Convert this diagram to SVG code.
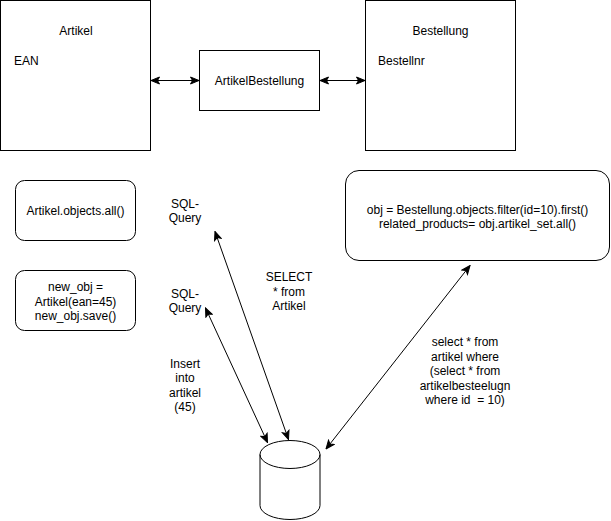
<svg xmlns="http://www.w3.org/2000/svg" width="611" height="521" viewBox="0 0 611 521">
<style>
.box{fill:#fff;stroke:#000;stroke-width:1}
.t{font-family:"Liberation Sans",Arial,sans-serif;font-size:12px;fill:#000}
.m{text-anchor:middle}
.edge{stroke:#000;stroke-width:1;fill:none;marker-start:url(#arr);marker-end:url(#arr)}
</style>
<defs>
<marker id="arr" viewBox="0 0 10 9" refX="9.5" refY="4.5" markerWidth="10" markerHeight="9" markerUnits="userSpaceOnUse" orient="auto-start-reverse">
<path d="M1,1 L9.5,4.5 L1,8 L3,4.5 Z" fill="#000" stroke="#000" stroke-width="1"/>
</marker>
</defs>
<rect width="611" height="521" fill="#fff"/>
<g id="artikel">
<rect class="box" x="0.5" y="0.5" width="150" height="150"/>
<text class="t m" x="76" y="35">Artikel</text>
<text class="t" x="14" y="65">EAN</text>
</g>
<g id="artikelbestellung">
<rect class="box" x="199.5" y="50.5" width="120" height="60"/>
<text class="t m" x="259.5" y="84.5">ArtikelBestellung</text>
</g>
<g id="bestellung">
<rect class="box" x="365.5" y="0.5" width="150" height="150"/>
<text class="t m" x="440.5" y="35">Bestellung</text>
<text class="t" x="378" y="65">Bestellnr</text>
</g>
<g id="all">
<rect class="box" x="15.5" y="180.5" width="120" height="60" rx="9"/>
<text class="t m" x="75.5" y="215">Artikel.objects.all()</text>
</g>
<g id="save">
<rect class="box" x="15.5" y="270.5" width="120" height="60" rx="9"/>
<text class="t m" x="75.5" y="291">new_obj =</text>
<text class="t m" x="75.5" y="305.5">Artikel(ean=45)</text>
<text class="t m" x="75.5" y="320">new_obj.save()</text>
</g>
<g id="filter">
<rect class="box" x="345.5" y="170.5" width="264" height="90" rx="13.5"/>
<text class="t m" x="477.5" y="213.5">obj = Bestellung.objects.filter(id=10).first()</text>
<text class="t m" x="477.5" y="227.5">related_products= obj.artikel_set.all()</text>
</g>
<g id="db">
<path class="box" d="M260,454.5 A30,14 0 0 1 320,454.5 L320,505.5 A30,14 0 0 1 260,505.5 Z"/>
<path d="M260,454.5 A30,14 0 0 0 320,454.5" fill="none" stroke="#000" stroke-width="1"/>
</g>
<g id="connectors">
<line class="edge" x1="151" y1="80.5" x2="199" y2="80.5"/>
<line class="edge" x1="320" y1="80.5" x2="365" y2="80.5"/>
<line class="edge" x1="215" y1="231.5" x2="288.5" y2="439.5"/>
<line class="edge" x1="205.5" y1="308" x2="267.5" y2="442.5"/>
<line class="edge" x1="470" y1="265.5" x2="326" y2="449"/>
</g>
<g id="labels">
<text class="t m" x="185" y="207.5">SQL-</text>
<text class="t m" x="185" y="222">Query</text>
<text class="t m" x="185" y="297.5">SQL-</text>
<text class="t m" x="185" y="312">Query</text>
<text class="t m" x="289" y="281">SELECT</text>
<text class="t m" x="289" y="295.5">* from</text>
<text class="t m" x="289" y="310">Artikel</text>
<text class="t m" x="185" y="367.5">Insert</text>
<text class="t m" x="185" y="382">into</text>
<text class="t m" x="185" y="396.5">artikel</text>
<text class="t m" x="185" y="411">(45)</text>
<text class="t m" x="465" y="346">select * from</text>
<text class="t m" x="465" y="360.5">artikel where</text>
<text class="t m" x="465" y="375">(select * from</text>
<text class="t m" x="465" y="389.5">artikelbesteelugn</text>
<text class="t m" x="465" y="404" style="white-space:pre" xml:space="preserve">where id  = 10)</text>
</g>
</svg>
